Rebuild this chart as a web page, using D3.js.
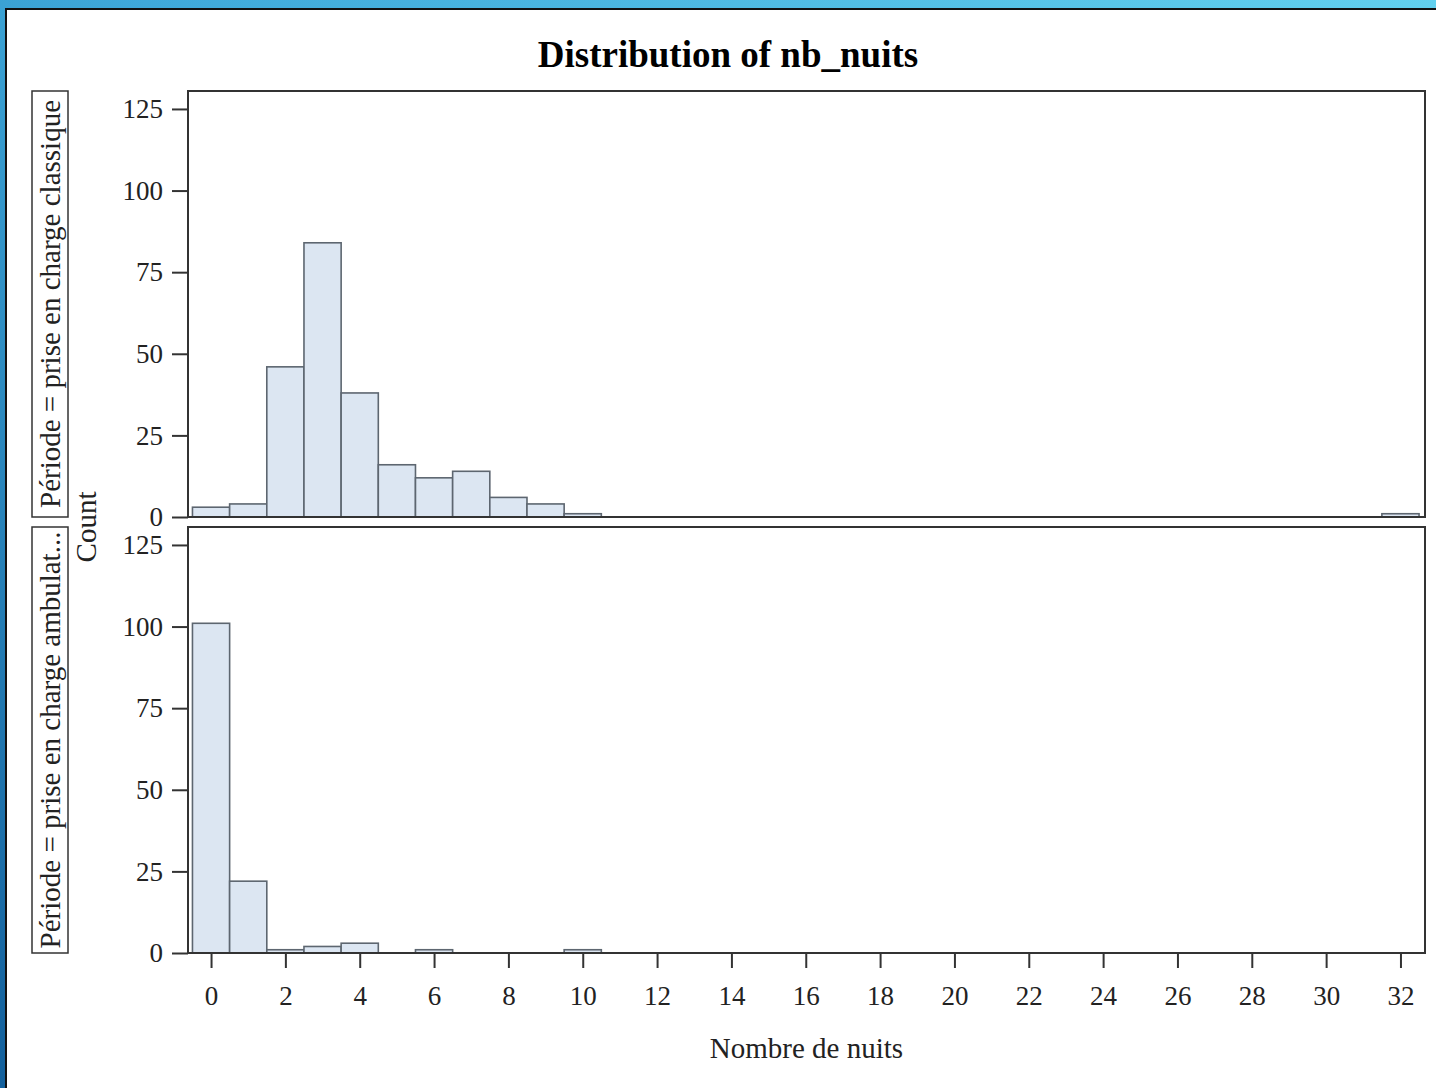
<!DOCTYPE html>
<html>
<head>
<meta charset="utf-8">
<script src="https://cdn.jsdelivr.net/npm/d3@7"></script>
<style>
  body { margin: 0; background: #fff; }
  svg text { font-family: "Liberation Serif", "Times New Roman", serif; fill: #222; }
</style>
</head>
<body>
<div id="container"></div>
<script>
/* DATA */
const title = "Distribution of nb_nuits";
const xLabel = "Nombre de nuits";
const yLabel = "Count";
const panelLabels = [
  "Période = prise en charge classique",
  "Période = prise en charge ambulat..."
];
// bin centres (nights) and counts per panel
const nights = [0, 1, 2, 3, 4, 5, 6, 7, 8, 9, 10, 32];
const countsClassique = [3, 4, 46, 84, 38, 16, 12, 14, 6, 4, 1, 1];
const countsAmbulatoire = [101, 22, 1, 2, 3, 0, 1, 0, 0, 0, 1, 0];
const xTicks = d3.range(0, 33, 2);
const yTicks = [0, 25, 50, 75, 100, 125];

/* CONSTANTS */
const width = 1436,
  height = 1088,
  plotLeft = 188,
  plotRight = 1425,
  panels = [
    { top: 91, bottom: 517, counts: countsClassique, label: panelLabels[0] },
    { top: 527, bottom: 953, counts: countsAmbulatoire, label: panelLabels[1] }
  ];

const svg = d3.select("#container")
  .append("svg")
  .attr("width", width)
  .attr("height", height);

// blue window frame
const defs = svg.append("defs");
const grad = defs.append("linearGradient")
  .attr("id", "frame")
  .attr("x1", "100%").attr("y1", "0%")
  .attr("x2", "0%").attr("y2", "100%");
grad.append("stop").attr("offset", "0%").attr("stop-color", "#62d0ee");
grad.append("stop").attr("offset", "45%").attr("stop-color", "#3fa9da");
grad.append("stop").attr("offset", "100%").attr("stop-color", "#13609c");

svg.append("rect")
  .attr("width", width).attr("height", height)
  .attr("fill", "url(#frame)");
svg.append("rect")
  .attr("x", 6).attr("y", 9)
  .attr("width", width).attr("height", height)
  .attr("fill", "#fff")
  .attr("stroke", "#111")
  .attr("stroke-width", 2);

// title
svg.append("text")
  .attr("x", 728)
  .attr("y", 67)
  .attr("text-anchor", "middle")
  .style("font-size", "37px")
  .style("font-weight", "bold")
  .style("fill", "#000")
  .text(title);

/* SCALES */
const xScale = d3.scaleLinear()
  .domain([-0.62, 32.66])
  .range([plotLeft, plotRight]);

panels.forEach((p, i) => {
  const yScale = d3.scaleLinear()
    .domain([0, 130.5])
    .range([p.bottom, p.top]);

  const g = svg.append("g").attr("class", "panel");

  // bars
  const binData = nights.map((n, j) => ({ n: n, c: p.counts[j] })).filter(d => d.c > 0);
  g.selectAll("rect.bar")
    .data(binData)
    .join("rect")
    .attr("class", "bar")
    .attr("x", d => xScale(d.n - 0.5))
    .attr("width", d => xScale(d.n + 0.5) - xScale(d.n - 0.5))
    .attr("y", d => yScale(d.c))
    .attr("height", d => yScale(0) - yScale(d.c))
    .attr("fill", "#dce6f2")
    .attr("stroke", "#5d6670")
    .attr("stroke-width", 1.6);

  // panel frame
  g.append("rect")
    .attr("x", plotLeft).attr("y", p.top)
    .attr("width", plotRight - plotLeft)
    .attr("height", p.bottom - p.top)
    .attr("fill", "none")
    .attr("stroke", "#333")
    .attr("stroke-width", 2);

  // y axis
  const yAxis = d3.axisLeft(yScale)
    .tickValues(yTicks)
    .tickSize(16)
    .tickPadding(9);
  const ya = g.append("g")
    .attr("transform", `translate(${plotLeft},0)`)
    .call(yAxis);
  ya.select(".domain").remove();
  ya.selectAll(".tick line").attr("stroke", "#333").attr("stroke-width", 2);
  ya.selectAll(".tick text")
    .style("font-size", "27px")
    .style("font-family", "'Liberation Serif', serif")
    .attr("fill", "#222");

  // row label box
  g.append("rect")
    .attr("x", 32).attr("y", p.top)
    .attr("width", 36)
    .attr("height", p.bottom - p.top)
    .attr("fill", "none")
    .attr("stroke", "#333")
    .attr("stroke-width", 1.5);
  g.append("text")
    .attr("transform", `translate(60,${(p.top + p.bottom) / 2}) rotate(-90)`)
    .attr("text-anchor", "middle")
    .style("font-size", "29px")
    .text(p.label);

  // x axis on bottom panel only
  if (i === panels.length - 1) {
    const xAxis = d3.axisBottom(xScale)
      .tickValues(xTicks)
      .tickSize(15)
      .tickPadding(18);
    const xa = g.append("g")
      .attr("transform", `translate(0,${p.bottom})`)
      .call(xAxis);
    xa.select(".domain").remove();
    xa.selectAll(".tick line").attr("stroke", "#333").attr("stroke-width", 2);
    xa.selectAll(".tick text")
      .style("font-size", "27px")
      .style("font-family", "'Liberation Serif', serif")
      .attr("fill", "#222");
  }
});

// axis titles
svg.append("text")
  .attr("transform", "translate(96,527) rotate(-90)")
  .attr("text-anchor", "middle")
  .style("font-size", "29px")
  .text(yLabel);

svg.append("text")
  .attr("x", (plotLeft + plotRight) / 2)
  .attr("y", 1058)
  .attr("text-anchor", "middle")
  .style("font-size", "29px")
  .text(xLabel);
</script>
</body>
</html>
